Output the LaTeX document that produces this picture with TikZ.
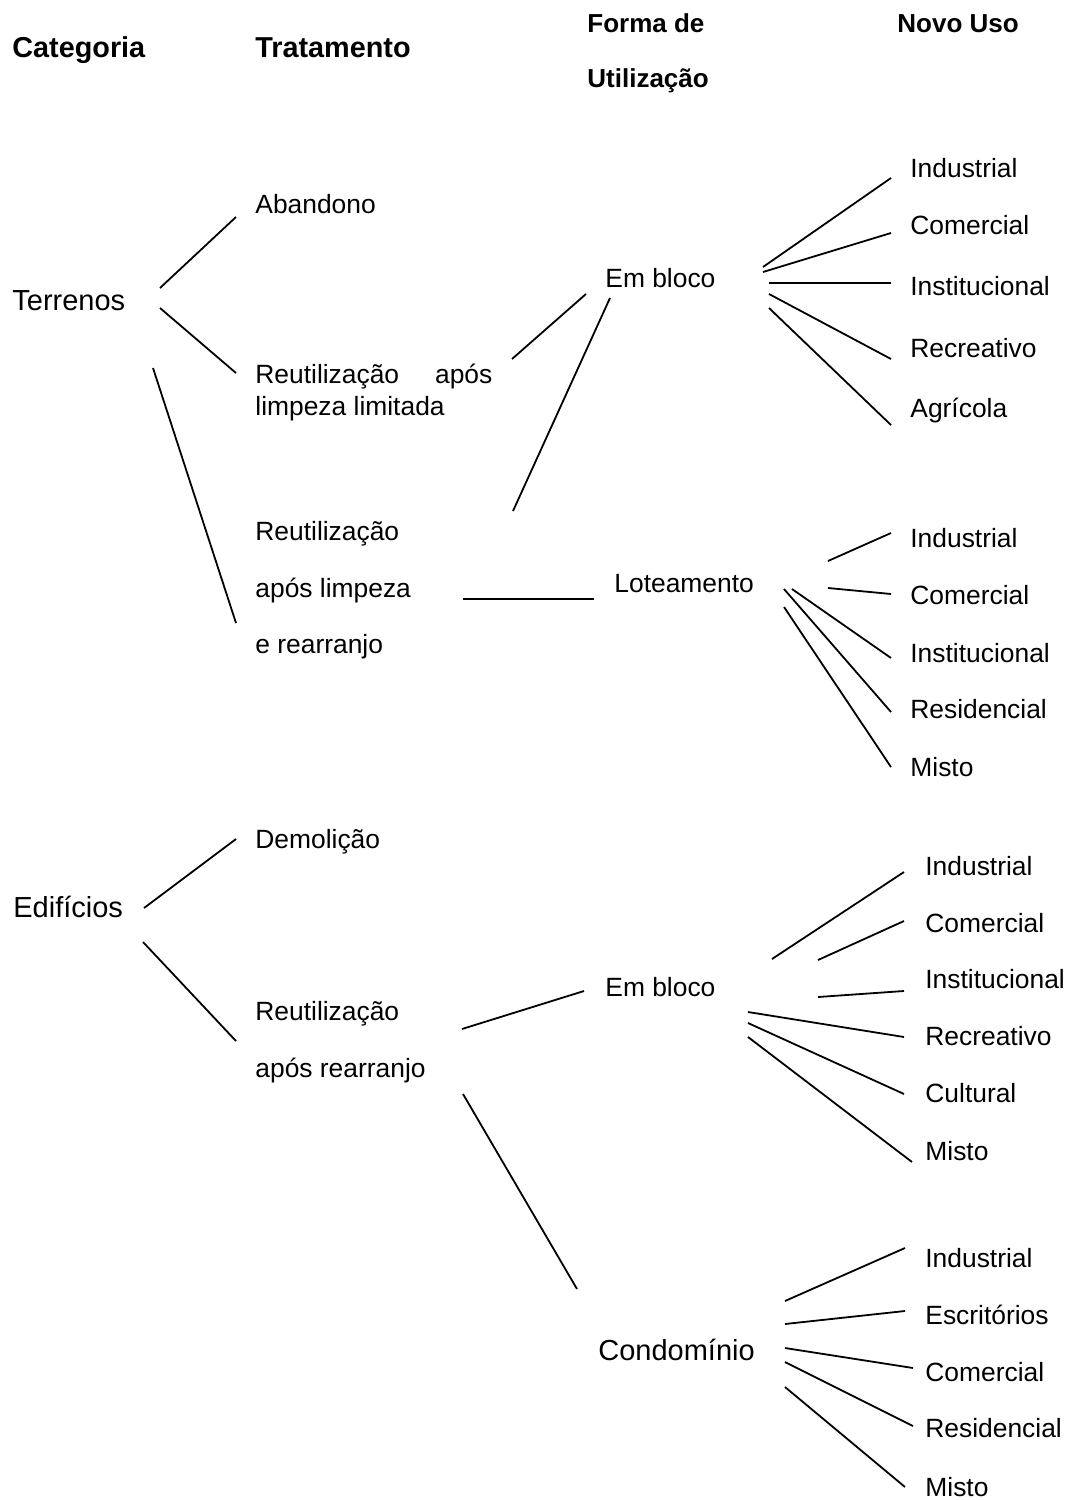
\documentclass[tikz,border=0pt]{standalone}
\usepackage{fontspec}
\setmainfont{Liberation Sans}
\begin{document}
\begin{tikzpicture}[x=0.5pt, y=-0.5pt,
  lbl/.style={anchor=base west, inner sep=0pt, font=\fontsize{13.2}{16}\selectfont},
  big/.style={anchor=base west, inner sep=0pt, font=\fontsize{14.5}{17}\selectfont},
  hdr/.style={anchor=base west, inner sep=0pt, font=\fontsize{13}{16}\selectfont\bfseries},
  bighdr/.style={anchor=base west, inner sep=0pt, font=\fontsize{14.4}{17}\selectfont\bfseries},
  link/.style={line width=0.9pt}]
\useasboundingbox (0,0) rectangle (1067,1500);

% column headings
\node[bighdr] (hCat) at (12,57) {Categoria};
\node[bighdr] (hTrat) at (255,57) {Tratamento};
\node[hdr] (hFormaA) at (587,32) {Forma de};
\node[hdr] (hFormaB) at (587,87) {Utilização};
\node[hdr] (hUso) at (897,32) {Novo Uso};

% ---- Terrenos ----
\node[big] (terr) at (12,310) {Terrenos};
\node[lbl] (aband) at (255,213) {Abandono};
\node[lbl] (limA) at (255,383) {\makebox[118.5pt][s]{Reutilização\hfill após}};
\node[lbl] (limB) at (255,415) {limpeza limitada};
\node[lbl] (rearA) at (255,540) {Reutilização};
\node[lbl] (rearB) at (255,597) {após limpeza};
\node[lbl] (rearC) at (255,653) {e rearranjo};
\node[lbl] (bloco1) at (605,287) {Em bloco};
\node[lbl] (lote) at (614,592) {Loteamento};

\node[lbl] (b1u1) at (910,177) {Industrial};
\node[lbl] (b1u2) at (910,234) {Comercial};
\node[lbl] (b1u3) at (910,295) {Institucional};
\node[lbl] (b1u4) at (910,357) {Recreativo};
\node[lbl] (b1u5) at (910,417) {Agrícola};

\node[lbl] (lu1) at (910,547) {Industrial};
\node[lbl] (lu2) at (910,604) {Comercial};
\node[lbl] (lu3) at (910,662) {Institucional};
\node[lbl] (lu4) at (910,718) {Residencial};
\node[lbl] (lu5) at (910,776) {Misto};

% ---- Edifícios ----
\node[big] (edif) at (13,917) {Edifícios};
\node[lbl] (demol) at (255,848) {Demolição};
\node[lbl] (reuA) at (255,1020) {Reutilização};
\node[lbl] (reuB) at (255,1077) {após rearranjo};
\node[lbl] (bloco2) at (605,996) {Em bloco};
\node[big] (cond) at (598,1360) {Condomínio};

\node[lbl] (b2u1) at (925,875) {Industrial};
\node[lbl] (b2u2) at (925,932) {Comercial};
\node[lbl] (b2u3) at (925,988) {Institucional};
\node[lbl] (b2u4) at (925,1045) {Recreativo};
\node[lbl] (b2u5) at (925,1102) {Cultural};
\node[lbl] (b2u6) at (925,1160) {Misto};

\node[lbl] (cu1) at (925,1267) {Industrial};
\node[lbl] (cu2) at (925,1324) {Escritórios};
\node[lbl] (cu3) at (925,1381) {Comercial};
\node[lbl] (cu4) at (925,1437) {Residencial};
\node[lbl] (cu5) at (925,1496) {Misto};

% ---- connector ends ----
\coordinate (t1s) at (160,288);  \coordinate (t1e) at (236,217);
\coordinate (t2s) at (160,308);  \coordinate (t2e) at (236,373);
\coordinate (t3s) at (153,368);  \coordinate (t3e) at (236,623);
\coordinate (l1s) at (512,359);  \coordinate (l1e) at (586,294);
\coordinate (r1s) at (513,511);  \coordinate (r1e) at (610,298);
\coordinate (r2s) at (463,599);  \coordinate (r2e) at (594,599);

\coordinate (a1s) at (763,267);  \coordinate (a1e) at (891,178);
\coordinate (a2s) at (763,272);  \coordinate (a2e) at (891,233);
\coordinate (a3s) at (769,283);  \coordinate (a3e) at (891,283);
\coordinate (a4s) at (769,294);  \coordinate (a4e) at (891,359);
\coordinate (a5s) at (769,308);  \coordinate (a5e) at (891,425);

\coordinate (c1s) at (828,561);  \coordinate (c1e) at (891,533);
\coordinate (c2s) at (828,588);  \coordinate (c2e) at (891,594);
\coordinate (c3s) at (792,589);  \coordinate (c3e) at (891,658);
\coordinate (c4s) at (784,589);  \coordinate (c4e) at (891,712);
\coordinate (c5s) at (784,607);  \coordinate (c5e) at (891,767);

\coordinate (e1s) at (144,908);  \coordinate (e1e) at (236,839);
\coordinate (e2s) at (143,942);  \coordinate (e2e) at (236,1041);
\coordinate (e3s) at (462,1029); \coordinate (e3e) at (584,991);
\coordinate (e4s) at (463,1094); \coordinate (e4e) at (577,1289);

\coordinate (d1s) at (772,959);  \coordinate (d1e) at (904,872);
\coordinate (d2s) at (818,960);  \coordinate (d2e) at (904,921);
\coordinate (d3s) at (818,997);  \coordinate (d3e) at (904,991);
\coordinate (d4s) at (748,1012); \coordinate (d4e) at (904,1037);
\coordinate (d5s) at (748,1023); \coordinate (d5e) at (904,1094);
\coordinate (d6s) at (748,1037); \coordinate (d6e) at (912,1162);

\coordinate (f1s) at (785,1301); \coordinate (f1e) at (905,1248);
\coordinate (f2s) at (785,1324); \coordinate (f2e) at (905,1311);
\coordinate (f3s) at (785,1348); \coordinate (f3e) at (913,1368);
\coordinate (f4s) at (785,1362); \coordinate (f4e) at (913,1426);
\coordinate (f5s) at (785,1387); \coordinate (f5e) at (905,1487);

% ---- connectors ----
\foreach \n in {t1,t2,t3,l1,r1,r2,a1,a2,a3,a4,a5,c1,c2,c3,c4,c5,
                e1,e2,e3,e4,d1,d2,d3,d4,d5,d6,f1,f2,f3,f4,f5}
  \draw[link] (\n s) -- (\n e);
\end{tikzpicture}
\end{document}
